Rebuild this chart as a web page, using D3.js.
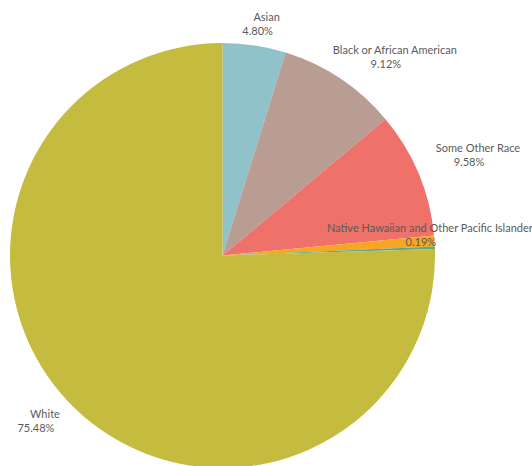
<!DOCTYPE html>
<html>
<head>
<meta charset="utf-8">
<script src="https://cdn.jsdelivr.net/npm/d3@7"></script>
<style>
  html, body { margin: 0; padding: 0; background: #fff; }
  svg { display: block; }
  .lbl { font-family: Lato, "Open Sans", sans-serif; font-size: 11px; fill: #5a5a5a; }
</style>
</head>
<body>
<svg id="chart" width="532" height="466"></svg>
<script>
// Population share by race (percent of total)
const categories = [
  "Asian",
  "Black or African American",
  "Some Other Race",
  "American Indian and Alaska Native",
  "Native Hawaiian and Other Pacific Islander",
  "White"
];
const shares = [4.80, 9.12, 9.58, 0.83, 0.19, 75.48];
const colors = ["#8fc2c9", "#b99d93", "#ee716a", "#f6a623", "#5aa88a", "#c5bb3e"];
// Categories that carry a text label
const labelled = ["Asian", "Black or African American", "Some Other Race",
                  "Native Hawaiian and Other Pacific Islander", "White"];

const width = 532, height = 466;
const cx = 222.5, cy = 255.5, radius = 212.5;

const svg = d3.select("#chart");
const g = svg.append("g").attr("transform", `translate(${cx},${cy})`);

const data = categories.map((c, i) => ({ cat: c, value: shares[i], color: colors[i] }));

const pie = d3.pie().value(d => d.value).sort(null);
const arc = d3.arc().innerRadius(0).outerRadius(radius);
const arcs = pie(data);

g.selectAll("path.slice")
  .data(arcs)
  .join("path")
  .attr("class", "slice")
  .attr("d", arc)
  .attr("fill", d => d.data.color);

// Label placement: anchor just outside the rim at each slice's mid angle,
// then nudge per label to keep text clear of the wedges.
const labelArc = d3.arc().innerRadius(radius + 8).outerRadius(radius + 8);
const nudge = {
  "Asian": [11, -17],
  "Black or African American": [50, -18],
  "Some Other Race": [52, -19],
  "Native Hawaiian and Other Pacific Islander": [-13, -16],
  "White": [-24, 4]
};

const labels = g.selectAll("g.label")
  .data(arcs.filter(d => labelled.includes(d.data.cat)))
  .join("g")
  .attr("class", "label")
  .attr("transform", d => {
    const [x, y] = labelArc.centroid(d);
    const [dx, dy] = nudge[d.data.cat];
    return `translate(${x + dx},${y + dy})`;
  });

labels.append("text")
  .attr("class", "lbl")
  .attr("text-anchor", "middle")
  .attr("y", 0)
  .text(d => d.data.cat);

labels.append("text")
  .attr("class", "lbl")
  .attr("text-anchor", "middle")
  .attr("x", -9)
  .attr("y", 14)
  .text(d => d3.format(".2f")(d.data.value) + "%");
</script>
</body>
</html>
